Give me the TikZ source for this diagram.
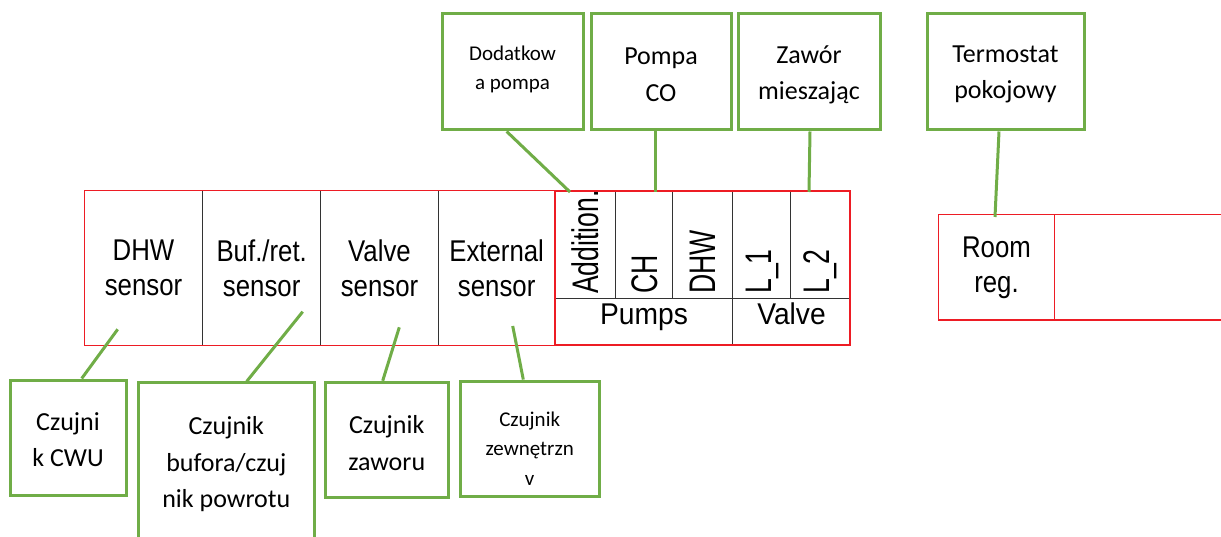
\documentclass[tikz,border=0pt]{standalone}
\usepackage{fontspec}
\setmainfont{Carlito}
\newfontfamily\schemafont[FakeStretch=0.86]{Liberation Sans}
\newfontfamily\groupefont[FakeStretch=0.94]{Liberation Sans}
\newfontfamily\vertfont[FakeStretch=0.72]{Liberation Sans}
\definecolor{vertlien}{RGB}{112,173,71}
\definecolor{rouge}{RGB}{237,28,36}
\begin{document}
\begin{tikzpicture}[x=1pt,y=-1pt]
	% Styles (MODIFIABLES)
	\tikzstyle{etiquette}=[draw=vertlien,line width=3pt,align=center,inner sep=0pt,font=\fontsize{26}{36.5}\selectfont]
	\tikzstyle{petite}=[font=\fontsize{21}{29.5}\selectfont]
	\tikzstyle{lien}=[draw=vertlien,line width=3pt]
	\tikzstyle{cadre}=[draw=rouge,line width=1.2pt]
	\tikzstyle{trait}=[draw=black!80,line width=1pt]
	\tikzstyle{capteur}=[inner sep=0pt,align=center,minimum height=154pt,font=\schemafont\fontsize{30}{35}\selectfont]
	\tikzstyle{vertical}=[rotate=90,anchor=west,inner sep=0pt,font=\vertfont\fontsize{37}{40}\selectfont]
	\tikzstyle{groupe}=[inner sep=0pt,anchor=base,font=\groupefont\fontsize{30}{35}\selectfont]
	% Dimensions (MODIFIABLES)
	\def\LigneHaut{72}
	\def\LigneCapteur{268}
	\def\BasTexte{294}
	% Cadre
	\useasboundingbox (0,0) rectangle (1221,537);
	\clip (0,0) rectangle (1221,537);
	% Noeuds : capteurs
	\node[capteur,minimum width=118.4pt] (dhw) at (143.5,\LigneCapteur) {DHW\\sensor};
	\node[capteur,minimum width=118pt] (buf) at (261.7,\LigneCapteur) {Buf./ret.\\sensor};
	\node[capteur,minimum width=117.6pt] (valve) at (379.5,\LigneCapteur) {Valve\\sensor};
	\node[capteur,minimum width=116.7pt] (ext) at (496.65,\LigneCapteur) {External\\sensor};
	\draw[trait] (dhw.north east) -- (dhw.south east);
	\draw[trait] (buf.north east) -- (buf.south east);
	\draw[trait] (valve.north east) -- (valve.south east);
	\draw[cadre] (dhw.north west) rectangle (ext.south east);
	% Noeuds : pompes et vanne
	\node[vertical] (add) at (585.5,\BasTexte) {Addition.};
	\node[vertical] (ch) at (644.5,\BasTexte) {CH};
	\node[vertical] (dhwp) at (703,\BasTexte) {DHW};
	\node[vertical] (lone) at (762,\BasTexte) {L\_1};
	\node[vertical] (ltwo) at (820.5,\BasTexte) {L\_2};
	\node[groupe] (pumps) at (644,325) {Pumps};
	\node[groupe] (valvegrp) at (791.5,325) {Valve};
	\draw[trait] (615.7,191) -- (615.7,298.3);
	\draw[trait] (672.7,191) -- (672.7,298.3);
	\draw[trait] (790.7,191) -- (790.7,298.3);
	\draw[trait] (732.7,191) -- (732.7,345);
	\draw[trait] (555,298.3) -- (850,298.3);
	\draw[cadre] (555,191) rectangle (850,345);
	% Noeuds : regulateur
	\node[capteur,minimum width=115pt,minimum height=105pt] (room) at (996.5,267.5) {Room\\reg.};
	\draw[cadre] (room.north west) rectangle (1230,320);
	\draw[cadre] (room.north east) -- (room.south east);
	% Noeuds : etiquettes (texte aligne en haut)
	\node[etiquette,petite,minimum width=141pt,text height=75.7pt,text depth=40.3pt] (dodatkowa) at (512.5,\LigneHaut) {Dodatkow\\a pompa};
	\node[etiquette,minimum width=140pt,text height=87.4pt,text depth=28.6pt] (pompaco) at (661,\LigneHaut) {Pompa\\CO};
	\node[etiquette,minimum width=142pt,text height=85.7pt,text depth=30.3pt] (mieszajacy) at (809,\LigneHaut) {Zawór\\mieszając};
	\node[etiquette,minimum width=157pt,text height=84.7pt,text depth=31.3pt] (termostat) at (1005.5,\LigneHaut) {Termostat\\pokojowy};
	\node[etiquette,minimum width=116pt,text height=86.7pt,text depth=28.3pt] (czujnikcwu) at (68,437.5) {Czujni\\k CWU};
	\node[etiquette,minimum width=176pt,text height=124.6pt,text depth=37.4pt] (czujnikbuf) at (226.3,463.9) {Czujnik\\bufora/czuj\\nik powrotu};
	\node[etiquette,minimum width=123.3pt,text height=87.7pt,text depth=27.7pt] (czujnikzaw) at (386.7,440) {Czujnik\\zaworu};
	\node[etiquette,petite,minimum width=139.3pt,text height=104pt,text depth=11.7pt] (czujnikzew) at (529.7,438.9) {Czujnik\\zewnętrzn\\v};
	% Points d'attache
	\coordinate (pAdd) at (570,192);
	\coordinate (pCH) at (655,192);
	\coordinate (pL) at (809,192);
	\coordinate (pRoom) at (995,217);
	\coordinate (pDHW) at (117.7,329.3);
	\coordinate (pBuf) at (302.7,311.7);
	\coordinate (pValve) at (399.3,327.3);
	\coordinate (pExt) at (512.7,326);
	% Liens (MODIFIABLES : Styles)
	\draw[lien] ([xshift=-5.8pt]dodatkowa.south) -- (pAdd);
	\draw[lien] ([xshift=-6pt]pompaco.south) -- (pCH);
	\draw[lien] ([xshift=1pt]mieszajacy.south) -- (pL);
	\draw[lien] ([xshift=-6.5pt]termostat.south) -- (pRoom);
	\draw[lien] (pDHW) -- ([xshift=13.7pt]czujnikcwu.north);
	\draw[lien] (pBuf) -- ([xshift=20.4pt]czujnikbuf.north);
	\draw[lien] (pValve) -- ([xshift=-4pt]czujnikzaw.north);
	\draw[lien] (pExt) -- ([xshift=-6.4pt]czujnikzew.north);
\end{tikzpicture}
\end{document}
